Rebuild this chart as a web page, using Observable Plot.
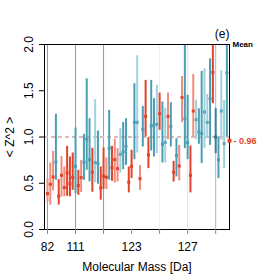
<!DOCTYPE html>
<html>
<head>
<meta charset="utf-8">
<script src="https://cdn.jsdelivr.net/npm/d3@7"></script>
<script src="https://cdn.jsdelivr.net/npm/@observablehq/plot@0.6"></script>
<style>
  html, body { margin: 0; padding: 0; background: #fff; }
  svg { display: block; }
</style>
</head>
<body>
<div id="chart"></div>
<script>
// ---- data ----
const centers = [0.388,0.489,0.568,0.730,0.360,0.586,0.453,0.612,0.496,0.561,
                 0.683,0.475,0.561,0.727,0.975,0.755,0.619,0.723,0.712,0.450,
                 0.576,0.565,0.878,0.669,0.755,0.658,0.813,0.842,0.899,0.511,
                 0.683,1.158,1.158,0.550,1.083,1.223,0.806,1.119,1.129,1.137,
                 1.252,0.921,0.942,1.223,1.115,0.619,0.799,0.687,1.428,1.198,
                 0.939,0.586,1.281,1.187,1.054,1.036,1.270,1.158,1.414,1.698,
                 1.000,0.755,1.281,0.928,1.694];
const highs   = [0.550,0.719,0.845,1.245,0.540,0.791,0.676,0.899,0.784,0.827,
                 1.097,0.640,0.748,1.029,1.629,1.198,0.878,1.403,1.065,0.676,
                 0.881,0.773,1.288,0.899,0.975,0.874,1.090,1.158,1.198,0.676,
                 0.856,1.576,1.878,0.691,1.331,1.612,0.993,1.612,1.414,1.558,
                 1.475,1.378,1.313,1.475,1.371,0.737,0.982,0.910,1.655,2.100,
                 1.450,0.903,1.676,1.396,1.306,1.709,1.737,1.460,1.845,2.100,
                 1.306,1.000,1.719,1.396,2.100];
const lows    = [0.291,0.263,0.417,0.532,0.263,0.353,0.353,0.360,0.353,0.424,
                 0.388,0.370,0.399,0.532,0.640,0.514,0.403,0.504,0.489,0.317,
                 0.435,0.432,0.532,0.522,0.504,0.514,0.612,0.647,0.694,0.396,
                 0.550,0.755,0.827,0.424,0.892,1.000,0.658,0.849,0.784,0.820,
                 1.072,0.719,0.719,0.971,0.892,0.514,0.568,0.525,1.155,0.874,
                 0.755,0.396,1.000,0.971,0.921,0.712,0.874,0.982,0.910,1.360,
                 0.820,0.550,0.964,0.658,1.000];
// group per point: r = red, R = light red, b = blue, B = light blue, d = dark blue
const groups = "RRRbrRRrrrbrRbbbrBbrrRbrRRBbbrrbBRbrrbbBrbBRbrbRRbbrRBbbBBbrdbBBb".split("");
const xTickIdx    = [0, 10, 20, 30, 40, 50, 60];
const xTickLabels = ["82", "111", "", "123", "", "127", ""];
const gridIdx     = [0, 10, 20, 40, 50, 60];
const yTicks      = [0, 0.5, 1, 1.5, 2];
const refLine     = 1.0;
const meanValue   = 0.96;

const data = centers.map((v, i) => ({i, v, lo: lows[i], hi: highs[i], g: groups[i]}));

// ---- styles ----
const barColor = {r: "#e2432b", R: "#ef8e7e", b: "#4b9fb4", B: "#a2d0dc", d: "#3f7f93"};
const dotColor = {r: "#e2432b", R: "#e2432b", b: "#4b9fb4", B: "#5aa8bb", d: "#3a6f80"};
const gridTone = {0: "#999", 10: "#999", 20: "#999", 40: "#f0f0f0", 50: "#e2e2e2", 60: "#b5b5b5"};
const RED = "#e2432b";

const chart = Plot.plot({
  width: 274,
  height: 274,
  marginLeft: 44,
  marginRight: 45,
  marginTop: 44,
  marginBottom: 45,
  x: {domain: [-1.07, 64.93]},
  y: {domain: [0, 2]},
  style: {fontFamily: "'Liberation Sans', Arial, sans-serif", fontSize: "12px", background: "white", color: "black"},
  marks: [
    Plot.ruleX(gridIdx, {x: d => d, stroke: d => gridTone[d], strokeWidth: 1}),
    Plot.ruleY([refLine], {y: d => d, stroke: "#d9bdb8", strokeWidth: 2, strokeDasharray: "4,3"}),
    Plot.ruleX(data, {x: "i", y1: "lo", y2: "hi", stroke: d => barColor[d.g], strokeWidth: 2, clip: true}),
    Plot.dot(data, {x: "i", y: "v", fill: d => dotColor[d.g], symbol: "square", r: 1.7, stroke: null}),
    Plot.frame({stroke: "black", strokeWidth: 1}),
    Plot.axisY({ticks: yTicks, tickFormat: d3.format(".1f"), tickSize: 5, tickRotate: -90, tickPadding: 7, label: null, fontSize: 12}),
    Plot.axisX({ticks: xTickIdx, tickFormat: d => xTickLabels[xTickIdx.indexOf(d)], tickSize: 5, tickPadding: 8, label: null, stroke: "#888", fontSize: 12}),
    Plot.text(["Molecular Mass [Da]"], {frameAnchor: "bottom", dy: 37.5, lineAnchor: "middle", text: d => d, fontSize: 12}),
    Plot.text(["< Z^2 >"], {frameAnchor: "left", dx: -34, rotate: -90, textAnchor: "middle", lineAnchor: "middle", text: d => d, fontSize: 12}),
    Plot.text(["(e)"], {frameAnchor: "top-right", dy: -10, dx: 0, lineAnchor: "middle", textAnchor: "end", text: d => d, fontSize: 12}),
    Plot.text(["Mean"], {frameAnchor: "top-right", dx: 3, lineAnchor: "middle", textAnchor: "start", text: d => d, fontSize: 8, fontWeight: "bold"}),
    Plot.dot([meanValue], {y: d => d, frameAnchor: "right", symbol: "square", r: 2.2, fill: RED, stroke: null}),
    Plot.text([meanValue], {y: d => d, frameAnchor: "right", dx: 4, lineAnchor: "middle", textAnchor: "start", text: d => "- " + d.toFixed(2), fill: RED, fontSize: 9, fontWeight: "bold"})
  ]
});
document.getElementById("chart").appendChild(chart);
</script>
</body>
</html>
